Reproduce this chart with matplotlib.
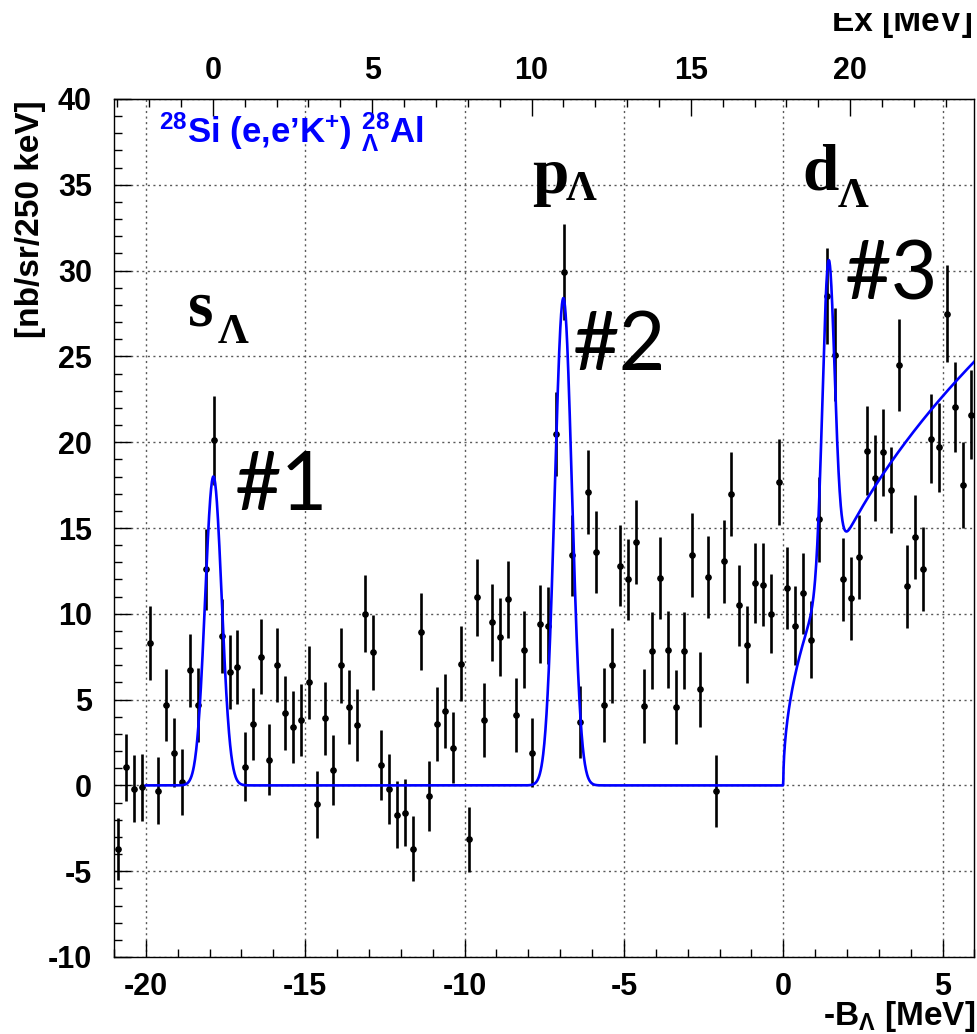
import numpy as np
import matplotlib
matplotlib.use("Agg")
import matplotlib.pyplot as plt
from matplotlib.ticker import MultipleLocator
from matplotlib.patches import Rectangle

plt.rcParams['axes.unicode_minus'] = False
plt.rcParams['font.family'] = ['Liberation Sans', 'DejaVu Sans']
plt.rcParams['mathtext.fontset'] = 'custom'
plt.rcParams['mathtext.rm'] = 'Liberation Sans:bold'
plt.rcParams['mathtext.it'] = 'Liberation Sans:bold'
plt.rcParams['mathtext.bf'] = 'Liberation Sans:bold'
plt.rcParams['mathtext.default'] = 'bf'

# ---------------- data ----------------
bin_start = -21.0      # MeV, left edge of first bin
bin_width = 0.25       # 250 keV bins
counts = [
    -3.7, 1.05, -0.2, -0.1, 8.3, -0.3, 4.7, 1.9, 0.2, 6.7,
    4.7, 12.6, 20.1, 8.7, 6.6, 6.9, 1.1, 3.6, 7.5, 1.5,
    7.0, 4.2, 3.4, 3.8, 6.0, -1.1, 3.9, 0.9, 7.0, 4.55,
    3.5, 10.0, 7.75, 1.2, -0.2, -1.7, -1.6, -3.7, 8.95, -0.6,
    3.6, 4.35, 2.2, 7.1, -3.15, 10.95, 3.8, 9.5, 8.65, 10.85,
    4.1, 7.9, 1.9, 9.4, 9.3, 20.5, 29.9, 13.4, 3.7, 17.1,
    13.6, 4.7, 7.0, 12.8, 12.0, 14.2, 4.65, 7.85, 12.1, 7.9,
    4.55, 7.85, 13.4, 5.6, 12.15, -0.3, 13.05, 17.0, 10.5, 8.2,
    11.8, 11.7, 10.0, 17.7, 11.5, 9.3, 11.2, 8.5, 15.5, 28.5,
    25.1, 12.0, 10.9, 13.3, 19.5, 17.9, 19.4, 17.2, 24.5, 11.6,
    14.5, 12.6, 20.2, 19.7, 27.5, 22.05, 17.5, 21.6]
errors = [
    1.80, 1.95, 1.95, 1.95, 2.15, 1.95, 2.10, 2.00, 1.95, 2.15,
    2.15, 2.35, 2.60, 2.15, 2.15, 2.15, 2.00, 2.10, 2.20, 2.05,
    2.15, 2.15, 2.10, 2.10, 2.15, 1.95, 2.15, 2.05, 2.20, 2.15,
    2.10, 2.25, 2.20, 2.05, 2.05, 1.95, 1.95, 1.90, 2.25, 2.05,
    2.15, 2.15, 2.05, 2.20, 1.90, 2.25, 2.15, 2.25, 2.25, 2.25,
    2.15, 2.25, 2.00, 2.25, 2.25, 2.45, 2.80, 2.35, 2.10, 2.45,
    2.40, 2.15, 2.20, 2.35, 2.35, 2.45, 2.15, 2.25, 2.40, 2.25,
    2.15, 2.25, 2.45, 2.20, 2.40, 2.10, 2.40, 2.45, 2.35, 2.25,
    2.35, 2.40, 2.30, 2.50, 2.40, 2.30, 2.35, 2.25, 2.50, 2.80,
    2.70, 2.40, 2.40, 2.45, 2.60, 2.50, 2.55, 2.50, 2.70, 2.40,
    2.45, 2.45, 2.60, 2.60, 2.80, 2.65, 2.50, 2.60]

# fit curve parameters
peak_centers = [-17.88, -6.90, 1.42]
peak_heights = [18.0, 28.4, 18.2]
peak_sigmas = [0.26, 0.27, 0.19]
bg_sqrt_coef = 10.7     # continuum above threshold: a*sqrt(x) + b*x
bg_lin_coef = -0.25
fit_range = (-20.0, 6.0)

ex_offset = 17.9   # Ex = -B_Lambda + 17.9

peak_labels = ["s", "p", "d"]
peak_numbers = ["#1", "#2", "#3"]

# ---------------- figure ----------------
W, H = 978, 1034
fig = plt.figure(figsize=(W / 100, H / 100), dpi=100)
ax = fig.add_axes([114 / W, (H - 957) / H, (974.5 - 114) / W, (957 - 99) / H])

x = bin_start + bin_width * (np.arange(len(counts)) + 0.5)
ax.errorbar(x, counts, yerr=errors, fmt='o', color='black', ms=3.8,
            elinewidth=1.9, capsize=0, zorder=4)

xf = np.linspace(fit_range[0], fit_range[1], 3000)
yf = np.zeros_like(xf)
for c, h, s in zip(peak_centers, peak_heights, peak_sigmas):
    yf += h * np.exp(-0.5 * ((xf - c) / s) ** 2)
pos = np.clip(xf, 0, None)
yf += np.where(xf > 0, bg_sqrt_coef * np.sqrt(pos) + bg_lin_coef * pos, 0.0)
ax.plot(xf, yf, color='#0000ff', lw=1.9, zorder=5)

ax.set_xlim(-21, 6)
ax.set_ylim(-10, 40)
ax.xaxis.set_major_locator(MultipleLocator(5))
ax.xaxis.set_minor_locator(MultipleLocator(1))
ax.yaxis.set_major_locator(MultipleLocator(5))
ax.yaxis.set_minor_locator(MultipleLocator(1))
ax.grid(True, which='major', color='0.35', ls=(0, (1.5, 2.5)), lw=1.0)
ax.tick_params(which='both', direction='in', top=False, right=False,
               labelsize=22, width=1.0)
ax.tick_params(axis='x', which='major', length=12, pad=11)
ax.tick_params(axis='y', which='major', length=12, pad=16)
ax.tick_params(which='minor', length=6)
for lab in ax.get_xticklabels() + ax.get_yticklabels():
    lab.set_fontweight('bold')
for sp in ax.spines.values():
    sp.set_linewidth(1.0)

sec = ax.secondary_xaxis('top', functions=(lambda v: v + ex_offset,
                                           lambda v: v - ex_offset))
sec.xaxis.set_major_locator(MultipleLocator(5))
sec.xaxis.set_minor_locator(MultipleLocator(1))
sec.tick_params(which='both', direction='in', labelsize=22, width=1.0)
sec.tick_params(which='major', length=12, pad=9)
sec.tick_params(which='minor', length=6)
for lab in sec.get_xticklabels():
    lab.set_fontweight('bold')


def fx(px):
    return px / W


def fy(py):
    return 1 - py / H


# axis titles
fig.text(fx(31), fy(100), '[nb/sr/250 keV]', rotation=90, ha='center', va='top',
         fontsize=24, fontweight='bold')
fig.text(fx(975), fy(1025), r'-B$_{\Lambda}$ [MeV]', ha='right', va='baseline',
         fontsize=24, fontweight='bold')
fig.text(fx(973), fy(31), 'Ex [MeV]', ha='right', va='baseline',
         fontsize=24, fontweight='bold')
fig.add_artist(Rectangle((0, fy(13)), 1, 13 / H, transform=fig.transFigure,
                         facecolor='white', edgecolor='none', zorder=10))

# reaction label
fig.text(fx(159), fy(142), r'$^{28}$Si (e,e’K$^{+}$) $^{28}_{\Lambda}$Al',
         color='#0000ff', fontsize=25, fontweight='bold', ha='left', va='baseline')

# orbital labels
orb_pos = [(188, 325, 218, 343), (532, 193, 566, 200), (802, 190, 838, 207)]
for lab, (px, py, sx, sy) in zip(peak_labels, orb_pos):
    fig.text(fx(px), fy(py), lab, family='Liberation Serif', fontweight='bold',
             fontsize=47, ha='left', va='baseline')
    fig.text(fx(sx), fy(sy), 'Λ', family='Liberation Serif', fontweight='bold',
             fontsize=31, ha='left', va='baseline')

num_pos = [(235, 510), (573, 370), (845, 300)]
for lab, (px, py) in zip(peak_numbers, num_pos):
    fig.text(fx(px), fy(py), lab, family='Lato', fontsize=58, ha='left',
             va='baseline')

fig.savefig('out.png', dpi=100)
